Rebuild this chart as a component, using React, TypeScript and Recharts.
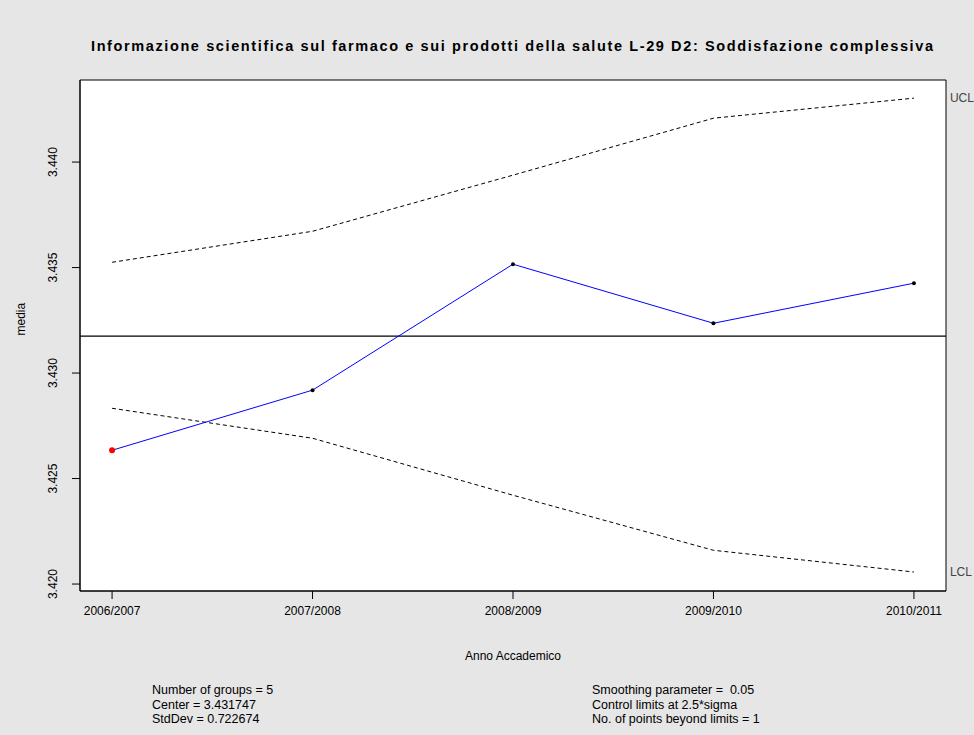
import React from "react";
import {
  ComposedChart,
  Line,
  XAxis,
  YAxis,
  ReferenceLine,
  ReferenceArea,
  LabelList,
} from "recharts";

const years = ["2006/2007", "2007/2008", "2008/2009", "2009/2010", "2010/2011"];
const ewma = [3.42634, 3.42919, 3.43516, 3.43236, 3.43426];
const ucl = [3.43525, 3.43672, 3.43938, 3.44208, 3.44303];
const lcl = [3.42833, 3.42691, 3.42421, 3.4216, 3.42057];
const beyond = [true, false, false, false, false];
const center = 3.431747;
const yTicks = [3.42, 3.425, 3.43, 3.435, 3.44];

const title =
  "Informazione scientifica sul farmaco e sui prodotti della salute L-29 D2: Soddisfazione complessiva";
const statsLeft = ["Number of groups = 5", "Center = 3.431747", "StdDev = 0.722674"];
const statsRight = [
  "Smoothing parameter =  0.05",
  "Control limits at 2.5*sigma",
  "No. of points beyond limits = 1",
];

const data = years.map((y, i) => ({
  idx: i + 1,
  year: y,
  ewma: ewma[i],
  ucl: ucl[i],
  lcl: lcl[i],
  beyond: beyond[i],
}));

const FONT = "'Liberation Sans', Arial, sans-serif";
const NARROW = "'Liberation Sans Narrow', 'Liberation Sans', Arial, sans-serif";

const YTick = (props: any) => {
  const { x, y, payload } = props;
  return (
    <text
      x={x - 13}
      y={y}
      transform={`rotate(-90, ${x - 13}, ${y})`}
      textAnchor="middle"
      fontFamily={FONT}
      fontSize={12}
      fill="#000"
    >
      {payload.value.toFixed(3)}
    </text>
  );
};

const XTick = (props: any) => {
  const { x, y, payload } = props;
  return (
    <text x={x} y={y + 14} textAnchor="middle" fontFamily={NARROW} fontSize={12} fill="#000">
      {years[payload.value - 1]}
    </text>
  );
};

const EwmaDot = (props: any) => {
  const { cx, cy, payload, index } = props;
  if (payload.beyond) {
    return <circle key={index} cx={cx} cy={cy} r={3} fill="#ff0000" />;
  }
  return <circle key={index} cx={cx} cy={cy} r={2} fill="#000" />;
};

const limitLabel = (text: string) => (props: any) => {
  const { x, y, index } = props;
  if (index !== years.length - 1) return null;
  return (
    <text x={x + 36} y={y + 4} fontFamily={FONT} fontSize={12} fill="#444">
      {text}
    </text>
  );
};

export default function App() {
  return (
    <div
      style={{
        position: "absolute",
        left: 0,
        top: 0,
        width: 974,
        height: 735,
        background: "#e6e6e6",
        overflow: "hidden",
      }}
    >
      <svg
        width={974}
        height={60}
        style={{ position: "absolute", left: 0, top: 0 }}
      >
        <text
          x={512}
          y={51}
          textAnchor="middle"
          fontFamily={FONT}
          fontWeight="bold"
          fontSize={14.5}
          textLength={842}
          lengthAdjust="spacing"
          fill="#000"
        >
          {title}
        </text>
      </svg>
      <ComposedChart
        width={974}
        height={735}
        data={data}
        margin={{ top: 80, right: 28, bottom: 104, left: 20 }}
        style={{ position: "absolute", left: 0, top: 0 }}
      >
        <ReferenceArea
          x1={0.84}
          x2={5.16}
          y1={3.41967}
          y2={3.44389}
          fill="#fff"
          fillOpacity={1}
          stroke="#000"
          strokeWidth={1}
          ifOverflow="visible"
        />
        <XAxis
          dataKey="idx"
          type="number"
          domain={[0.84, 5.16]}
          ticks={[1, 2, 3, 4, 5]}
          allowDataOverflow
          height={40}
          tick={<XTick />}
          tickSize={8}
          tickLine={{ stroke: "#000" }}
          axisLine={{ stroke: "#000" }}
          label={{
            value: "Anno Accademico",
            position: "insideBottom",
            offset: -29,
            fontFamily: NARROW,
            fontSize: 12,
            fill: "#000",
          }}
        />
        <YAxis
          type="number"
          domain={[3.41967, 3.44389]}
          ticks={yTicks}
          allowDataOverflow
          width={60}
          tick={<YTick />}
          tickSize={8}
          tickLine={{ stroke: "#000" }}
          axisLine={{ stroke: "#000" }}
          label={{
            value: "media",
            angle: -90,
            position: "insideLeft",
            offset: 1,
            fontFamily: FONT,
            fontSize: 12,
            fill: "#000",
          }}
        />
        <ReferenceLine y={center} stroke="#000" strokeWidth={1.2} />
        <Line
          dataKey="ucl"
          stroke="#000"
          strokeDasharray="4 3"
          strokeWidth={1}
          dot={false}
          isAnimationActive={false}
        >
          <LabelList dataKey="ucl" content={limitLabel("UCL")} />
        </Line>
        <Line
          dataKey="lcl"
          stroke="#000"
          strokeDasharray="4 3"
          strokeWidth={1}
          dot={false}
          isAnimationActive={false}
        >
          <LabelList dataKey="lcl" content={limitLabel("LCL")} />
        </Line>
        <Line
          dataKey="ewma"
          stroke="#0000ff"
          strokeWidth={1}
          dot={<EwmaDot />}
          activeDot={false}
          isAnimationActive={false}
        />
      </ComposedChart>
      <div
        style={{
          position: "absolute",
          left: 152,
          top: 683,
          fontFamily: NARROW,
          fontSize: 12.5,
          lineHeight: "14.5px",
        }}
      >
        {statsLeft.map((s) => (
          <div key={s}>{s}</div>
        ))}
      </div>
      <div
        style={{
          position: "absolute",
          left: 592,
          top: 683,
          fontFamily: NARROW,
          fontSize: 12.5,
          lineHeight: "14.5px",
          whiteSpace: "pre",
        }}
      >
        {statsRight.map((s) => (
          <div key={s}>{s}</div>
        ))}
      </div>
    </div>
  );
}
